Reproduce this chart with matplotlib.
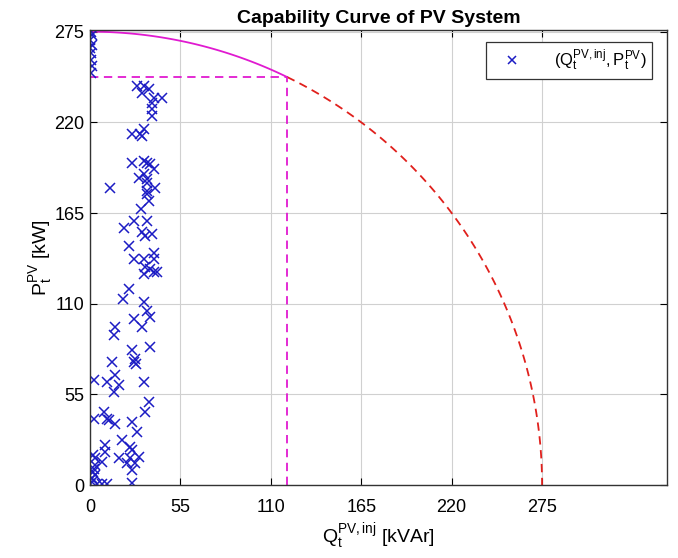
import numpy as np
import matplotlib.pyplot as plt

plt.rcParams['font.family'] = ['Liberation Sans', 'DejaVu Sans']
plt.rcParams['mathtext.fontset'] = 'custom'
plt.rcParams['mathtext.rm'] = 'Liberation Sans'
plt.rcParams['mathtext.it'] = 'Liberation Sans'
plt.rcParams['lines.scale_dashes'] = False

# 逆变器额定容量与功率因数
S_rated = 275.0
pf = 0.9
P_lim = S_rated * pf
Q_lim = np.sqrt(S_rated ** 2 - P_lim ** 2)

# 各时段注入无功 / 光伏有功
Q_inj = [0.5, 1.0, 0.3, 1.2, 0.0, 0.8, 0.5, 1.0, 0.5,
         28.6, 32.6, 31.6, 35.7, 38.7, 43.8, 37.7, 37.7, 37.7,
         25.5, 30.4, 32.8, 31.6,
         25.5, 32.6, 34.7, 36.7, 38.7, 32.6, 29.6, 34.7, 34.7, 39.7, 12.4,
         34.7, 34.7, 35.7, 31.2, 26.6, 34.7, 20.5, 31.6, 37.7, 33.6, 23.5,
         38.7, 27.0, 32.6, 38.7,
         33.6, 36.7, 32.6, 38.7, 40.7, 23.5, 19.9, 32.6, 34.7, 36.7, 26.6,
         31.6, 15.4, 14.8, 25.5, 36.7, 27.6, 26.6, 28.0, 13.4,
         2.2, 10.3, 15.4, 17.4, 14.4, 32.6, 35.7, 33.6, 2.2, 8.3, 10.3, 11.4,
         15.4, 25.5, 28.6, 19.5, 9.3, 24.5, 25.5, 9.3, 29.6, 17.4, 24.5, 7.3,
         3.2, 22.5, 27.6, 25.5,
         3.0, 2.5, 2.0, 3.0, 1.5, 0.0, 4.3, 7.3, 10.3, 25.5, 1.0, 2.0]
P_pv = [275, 273, 270, 267, 265, 262, 258, 254, 250,
        242, 242, 238, 240, 235, 235, 232, 228, 224,
        213, 213, 216, 212,
        195.5, 196.5, 195.5, 194.5, 191.5, 188.5, 186.4, 185.4, 183.4, 180.4, 180.4,
        178.4, 176.4, 172.3, 167.3, 160.2, 160.2, 155.8, 153.2, 152.2, 151.1, 145.1,
        141, 137, 137, 137,
        132, 131, 128, 129, 129, 119, 113, 110.8, 105.8, 101.8, 100.8,
        95.7, 95.7, 90.7, 81.6, 83.6, 76.6, 74.5, 73.6, 74.5,
        63.5, 62.5, 66.5, 60.5, 56.4, 62.5, 50.4, 44.3, 40.3, 44.3, 40.3, 39.3,
        37.3, 38.3, 32.2, 27.2, 24.2, 23.2, 21.2, 20.1, 17.1, 16.1, 16.1, 14.1,
        16.1, 13.1, 13.1, 9.1,
        12, 10, 8, 6, 4, 0.5, 0.5, 0.5, 0.5, 1, 2, 18]

ticks = [0, 55, 110, 165, 220, 275]

fig = plt.figure(figsize=(6.78, 5.58), dpi=100)
ax = fig.add_axes([0.1327, 0.1308, 0.8511, 0.8154])

# 容量曲线: 功率因数限制内为实线, 超出部分为虚线
dash = (6, 4)
th1 = np.linspace(np.pi / 2, np.arctan2(P_lim, Q_lim), 60)
ax.plot(S_rated * np.cos(th1), S_rated * np.sin(th1), color='#e01ad0', lw=1.3)
th2 = np.linspace(np.arctan2(P_lim, Q_lim), 0, 120)
ax.plot(S_rated * np.cos(th2), S_rated * np.sin(th2), color='#e0201c', lw=1.3,
        dashes=dash)
ax.plot([0, Q_lim], [P_lim, P_lim], color='#e01ad0', lw=1.3, dashes=dash)
ax.plot([Q_lim, Q_lim], [0, P_lim], color='#e01ad0', lw=1.3, dashes=dash)

ax.plot(Q_inj, P_pv, 'x', color='#1c1cc4', ms=7, mew=1.1, ls='none',
        label=r'$(\mathrm{Q_t^{PV,inj}},\mathrm{P_t^{PV}})$')

ax.set_xlim(0, 351)
ax.set_ylim(0, 276)
ax.set_xticks(ticks)
ax.set_yticks(ticks)
ax.tick_params(direction='in', top=True, right=True, labelsize=13, length=5)
ax.tick_params(axis='x', pad=10)
ax.tick_params(axis='y', pad=4)
ax.grid(True, color='#d0d0d0', lw=0.8)
ax.set_axisbelow(True)
for s in ax.spines.values():
    s.set_color('#333333')
    s.set_linewidth(1.0)

ax.set_title('Capability Curve of PV System', fontsize=14, fontweight='bold', pad=5)
ax.set_xlabel(r'$\mathrm{Q_t^{PV,inj}}$ [kVAr]', fontsize=14, labelpad=4)
ax.set_ylabel(r'$\mathrm{P_t^{PV}}$ [kW]', fontsize=14)
ax.yaxis.set_label_coords(-0.062, 0.5)

leg = ax.legend(loc='upper right', fontsize=12, fancybox=False, edgecolor='#333333',
                framealpha=1, borderpad=0.35, handlelength=2.4, handletextpad=1.3,
                markerscale=0.8, borderaxespad=0, bbox_to_anchor=(0.974, 0.974))
leg.get_frame().set_linewidth(0.9)

plt.savefig('out.png', dpi=100)
